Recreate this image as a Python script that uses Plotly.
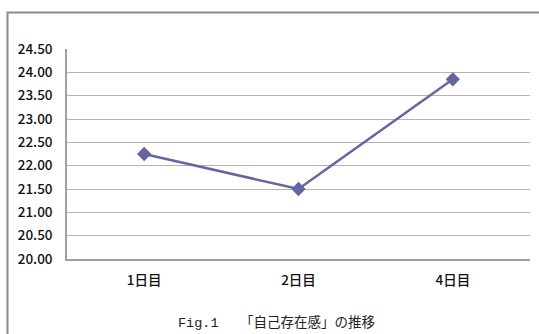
import plotly.graph_objects as go

# 自己存在感の平均値の推移
days = ["1日目", "2日目", "4日目"]
scores = [22.25, 21.50, 23.85]
y_ticks = [20.0, 20.5, 21.0, 21.5, 22.0, 22.5, 23.0, 23.5, 24.0, 24.5]
caption = "Fig.1\u3000 「自己存在感」の推移"

W, H = 539, 334
ml, mr, mt, mb = 67, 9, 49, 75
pw, ph = W - ml - mr, H - mt - mb

fig = go.Figure()
fig.add_trace(go.Scatter(
    x=days, y=scores, mode="lines+markers",
    line=dict(color="#6466A2", width=2.5),
    marker=dict(symbol="diamond", size=11, color="#6466A2"),
    showlegend=False, hoverinfo="skip",
))

def px_to_paper_x(px):
    return (px - ml) / pw

def px_to_paper_y(py):
    return (H - mb - py) / ph

# outer chart frame (runs past the right and bottom edges)
fig.add_shape(
    type="rect", xref="paper", yref="paper",
    x0=px_to_paper_x(7.5), x1=px_to_paper_x(560),
    y0=px_to_paper_y(360), y1=px_to_paper_y(12.5),
    line=dict(color="#8a8a8a", width=2), fillcolor="rgba(0,0,0,0)",
    layer="below",
)

fig.add_annotation(
    text=caption, xref="paper", yref="paper",
    x=px_to_paper_x(276), y=px_to_paper_y(322),
    xanchor="center", yanchor="middle", showarrow=False,
    font=dict(family="Liberation Mono, Noto Sans CJK JP", size=13.5, color="#222222"),
)

tick_font = dict(family="Noto Sans CJK JP, Noto Sans", size=13.5, color="#111111", weight=500)

fig.update_layout(
    width=W, height=H,
    margin=dict(l=ml, r=mr, t=mt, b=mb),
    paper_bgcolor="white", plot_bgcolor="white",
    font=dict(family="Noto Sans CJK JP, Noto Sans", color="#222222"),
)
fig.update_xaxes(
    type="category", showgrid=False,
    showline=True, linecolor="#a0a0a0", linewidth=1.5,
    ticks="", tickfont=tick_font,
    range=[-0.5, 2.5], ticklabelstandoff=8,
)
fig.update_yaxes(
    range=[20, 24.5], tickvals=y_ticks,
    ticktext=[f"{v:.2f}" for v in y_ticks],
    showgrid=True, gridcolor="#b4b4b4", gridwidth=1.2,
    showline=True, linecolor="#a0a0a0", linewidth=1.5,
    zeroline=False, ticks="", tickfont=tick_font,
    ticklabelstandoff=10,
)

fig.write_html("out.html")
